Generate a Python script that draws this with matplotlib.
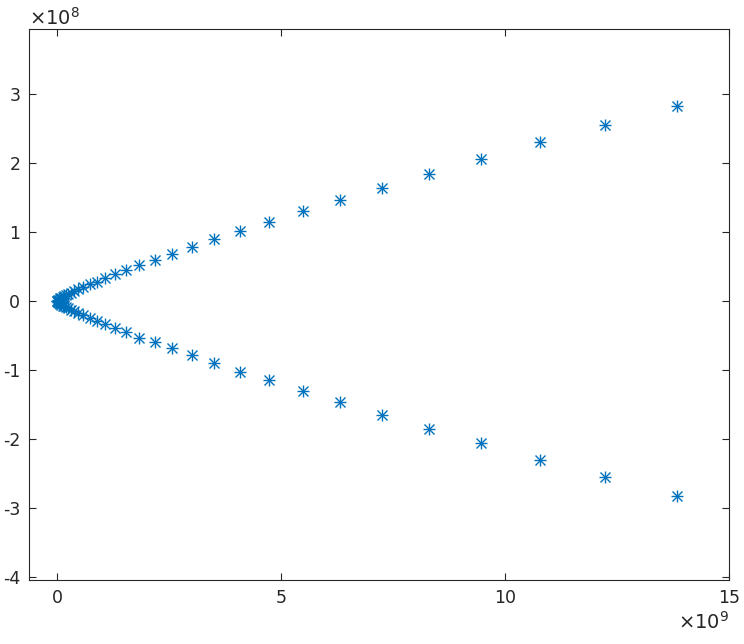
import numpy as np
import matplotlib
matplotlib.use('Agg')
import matplotlib.pyplot as plt
from matplotlib.ticker import ScalarFormatter

# Points of the upper arm (real part x 1e9, imag part x 1e8); lower arm is the mirror
re_part = [13.84, 12.23, 10.78, 9.46, 8.30, 7.25, 6.32, 5.49, 4.73, 4.08,
           3.50, 3.01, 2.56, 2.17, 1.82, 1.53, 1.29, 1.07, 0.88, 0.73,
           0.58, 0.46, 0.37, 0.30, 0.24, 0.19, 0.15, 0.12, 0.09, 0.07,
           0.05, 0.035, 0.02, 0.01, 0.0]
im_part = [2.823, 2.547, 2.300, 2.055, 1.850, 1.645, 1.468, 1.305, 1.148, 1.020,
           0.898, 0.782, 0.680, 0.597, 0.530, 0.452, 0.390, 0.334, 0.280, 0.242,
           0.203, 0.172, 0.146, 0.124, 0.105, 0.089, 0.075, 0.063, 0.052, 0.042,
           0.033, 0.024, 0.016, 0.008, 0.0]

xt = [0, 5, 10, 15]
yt = [-4, -3, -2, -1, 0, 1, 2, 3]

plt.rcParams['font.family'] = 'DejaVu Sans'
plt.rcParams['mathtext.fontset'] = 'dejavusans'
plt.rcParams['axes.unicode_minus'] = False


# plain tick labels (hyphen minus), but keep the x10^n offset text
class PlainSci(ScalarFormatter):
    def __call__(self, v, pos=None):
        return '%g' % (v / 10 ** self.orderOfMagnitude)


x = np.array(re_part + re_part) * 1e9
y = np.concatenate([np.array(im_part), -np.array(im_part)]) * 1e8

fig = plt.figure(figsize=(7.44, 6.44), dpi=100)
ax = fig.add_axes([0.0394, 0.0994, 0.9409, 0.8551])

col = '#0072BD'
ax.plot(x, y, linestyle='none', marker='+', ms=9.2, mew=1.0, color=col)
ax.plot(x, y, linestyle='none', marker='x', ms=6.5, mew=1.0, color=col)

ax.set_xlim(-0.625e9, 15e9)
ax.set_ylim(-4.04e8, 3.94e8)
ax.set_xticks([v * 1e9 for v in xt])
ax.set_yticks([v * 1e8 for v in yt])

for a, p in ((ax.xaxis, 9), (ax.yaxis, 8)):
    fmt = PlainSci(useMathText=True)
    fmt.set_powerlimits((p, p))
    a.set_major_formatter(fmt)

ax.tick_params(direction='in', length=5, width=0.8, colors='#262626',
               labelsize=12.5, top=True, right=True, pad=6.5)
for t in (ax.xaxis.get_offset_text(), ax.yaxis.get_offset_text()):
    t.set_fontsize(14)
    t.set_color('#262626')
for s in ax.spines.values():
    s.set_linewidth(0.8)
    s.set_color('#262626')

fig.savefig('out.png', dpi=100)
